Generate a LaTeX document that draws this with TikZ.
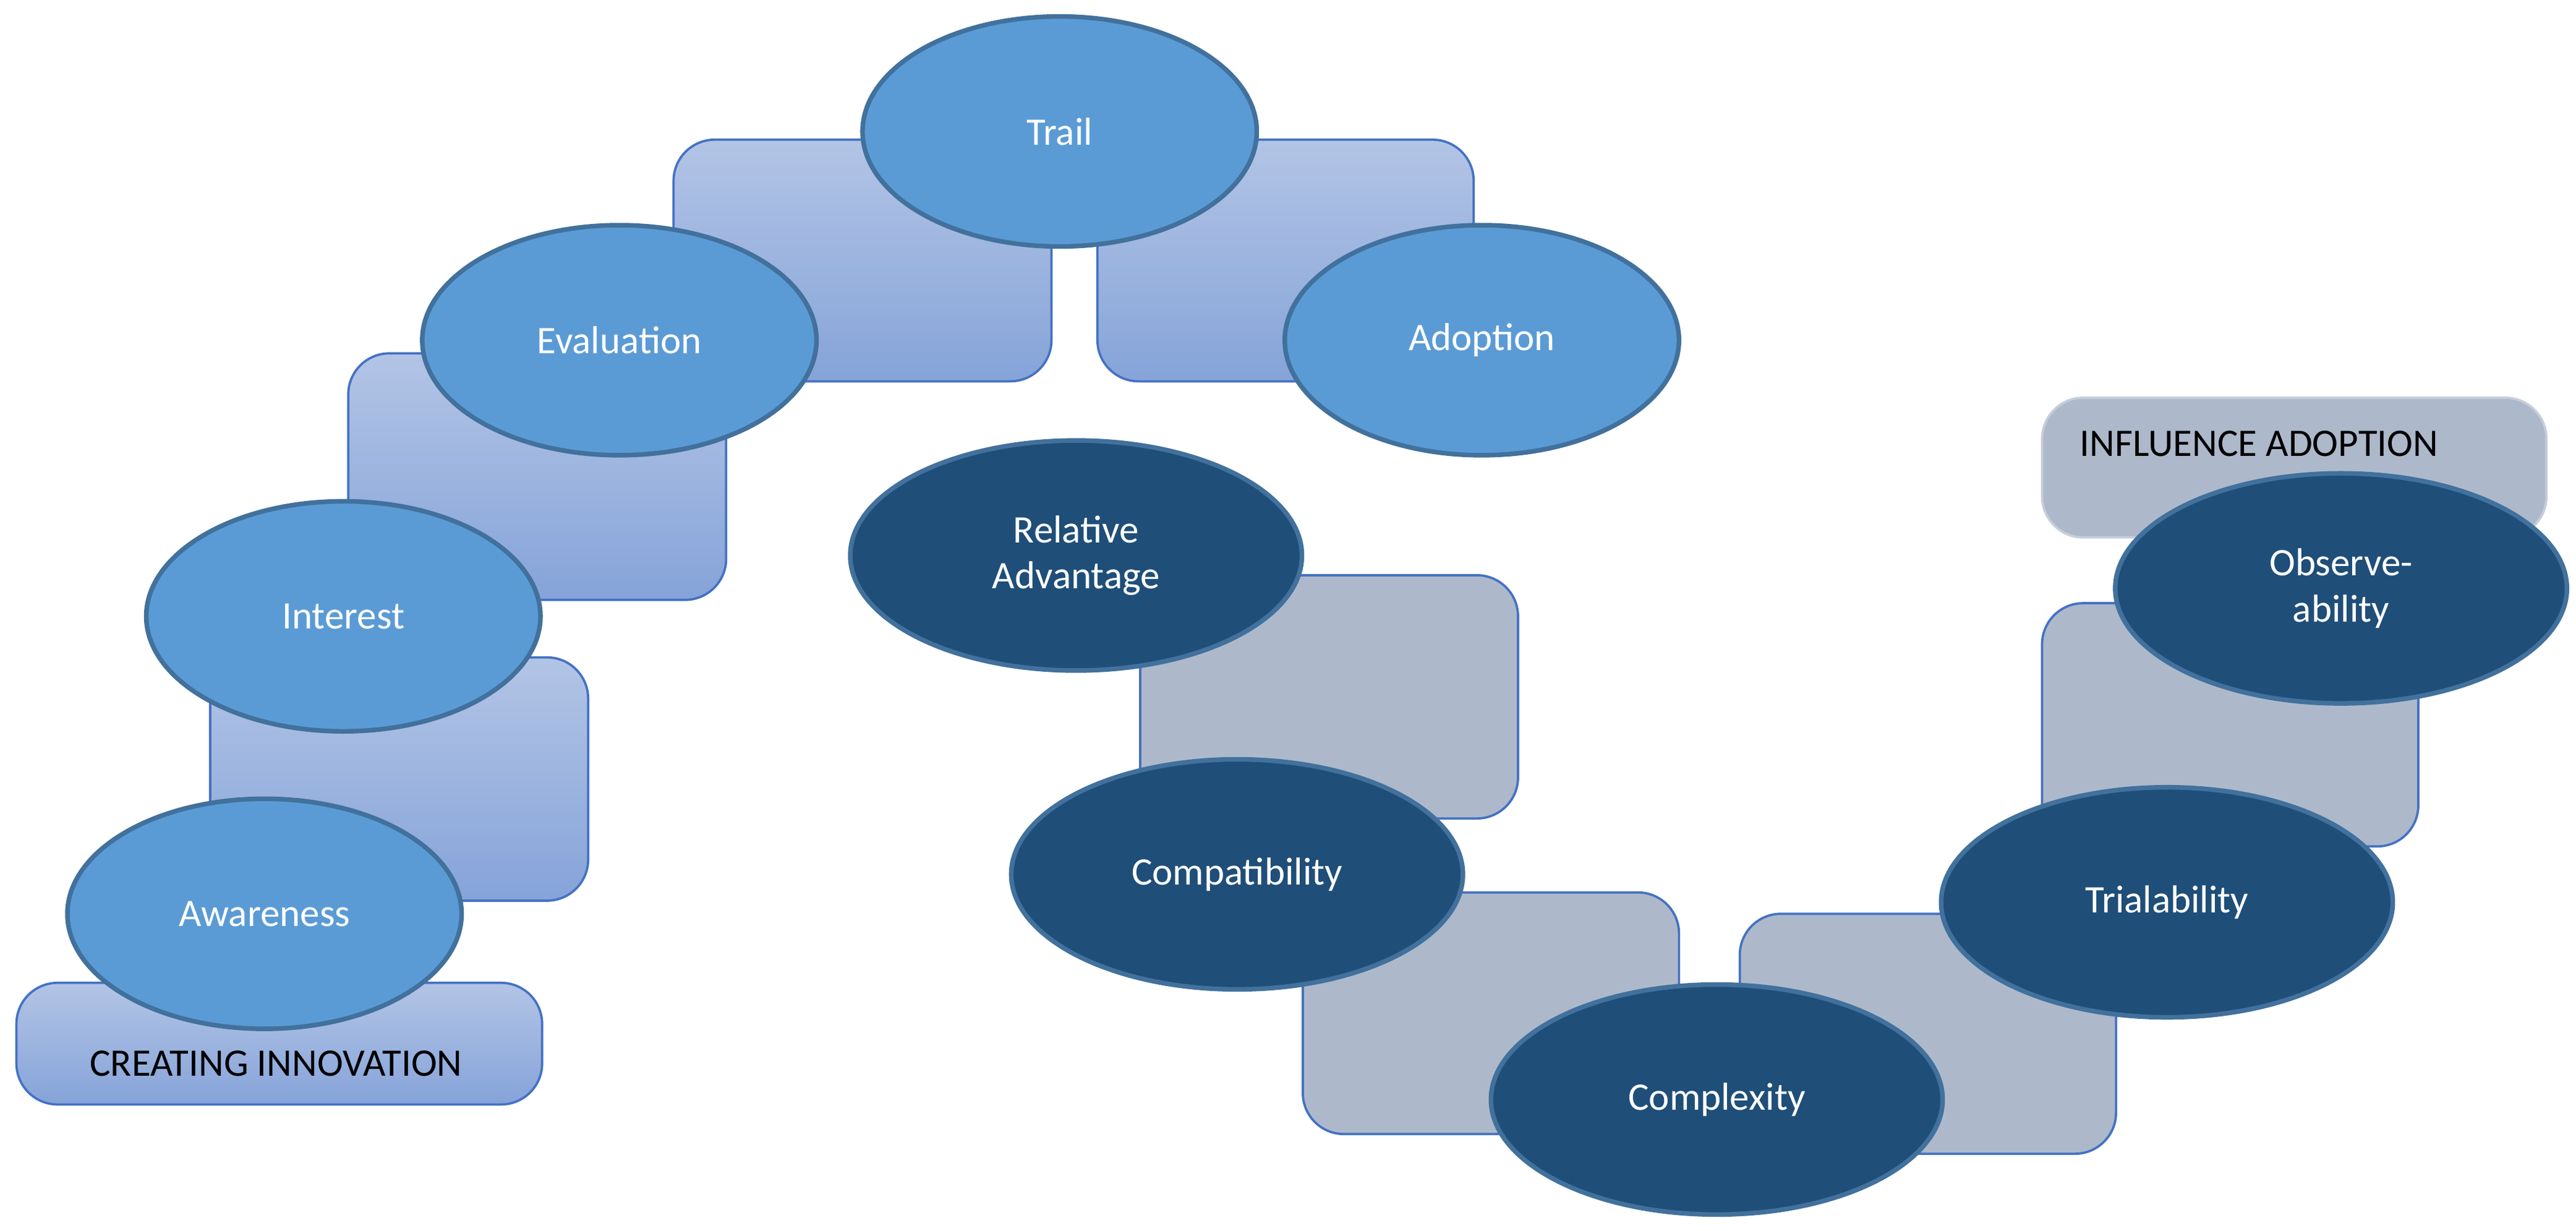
\documentclass[tikz,border=0pt]{standalone}
\usepackage{fontspec}
\setmainfont{Carlito}
\usetikzlibrary{shapes.geometric}
\definecolor{stepblue}{HTML}{5B9BD5}
\definecolor{stepedge}{HTML}{41719C}
\definecolor{factdark}{HTML}{1F4E79}
\definecolor{boxgray}{HTML}{ADB9CA}
\definecolor{boxedge}{HTML}{4472C4}
\tikzset{
  stepbox/.style={draw=boxedge, line width=.8pt, rounded corners=.5cm, top color=blue!40!black!5!boxedge!40, bottom color=boxedge!65},
  graybox/.style={draw=boxedge, line width=.8pt, rounded corners=.5cm, fill=boxgray},
  stage/.style={ellipse, draw=stepedge, line width=1.6pt, fill=stepblue, text=white, minimum width=4.8cm, minimum height=2.8cm, font=\fontsize{13.5}{16}\selectfont},
  factor/.style={ellipse, draw=stepedge, line width=1.6pt, fill=factdark, text=white, minimum width=5.5cm, minimum height=2.8cm, align=center, font=\fontsize{13.5}{16}\selectfont},
  tag/.style={font=\fontsize{13.5}{16}\selectfont}
}
\begin{document}
\begin{tikzpicture}[x=.02cm, y=-.02cm]
				\useasboundingbox (0,0) rectangle (1568,749);
				% stages of adoption
				\draw[stepbox] (410,85) rectangle (640,232);
				\draw[stepbox] (668,85) rectangle (897,232);
				\draw[stepbox] (212,215) rectangle (442,365);
				\draw[stepbox] (128,400) rectangle (358,548);
				\draw[stepbox] (10,598) rectangle (330,672);
				\node[stage] (trail) at (645,80) {Trail};
				\node[stage] (evaluation) at (377,207) {Evaluation};
				\node[stage] (adoption) at (902,207) {Adoption};
				\node[stage] (interest) at (209,375) {Interest};
				\node[stage] (awareness) at (161,556) {Awareness};
				\node[tag] (creating) at (168,647) {CREATING INNOVATION};
				% factors
				\draw[graybox] (694,350) rectangle (924,498);
				\draw[graybox] (793,543) rectangle (1022,690);
				\draw[graybox] (1059,556) rectangle (1288,702);
				\draw[graybox] (1243,367) rectangle (1472,515);
				\draw[graybox, draw=boxgray!70!white] (1243,242) rectangle (1550,327);
				\node[tag] (influence) at (1375,270) {INFLUENCE ADOPTION};
				\node[factor] (relative) at (655,338) {Relative\\Advantage};
				\node[factor] (compat) at (753,532) {Compatibility};
				\node[factor] (complexity) at (1045,669) {Complexity};
				\node[factor] (trial) at (1319,549) {Trialability};
				\node[factor] (observe) at (1425,358) {Observe-\\ability};
\end{tikzpicture}
\end{document}
